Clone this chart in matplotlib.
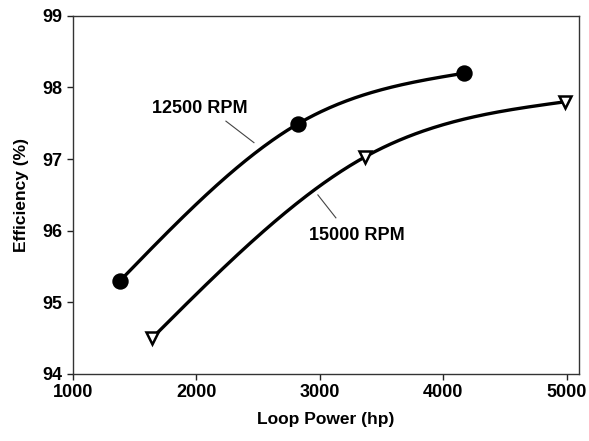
import matplotlib
matplotlib.use("Agg")
import matplotlib.pyplot as plt
import numpy as np

plt.rcParams["font.family"] = ["Liberation Sans", "DejaVu Sans"]
plt.rcParams["font.weight"] = "bold"

# ----- data --------------------------------------------------------------
power_12500 = [1380, 2820, 4170]      # hp
eff_12500 = [95.30, 97.49, 98.20]     # %
power_15000 = [1640, 3365, 4985]
eff_15000 = [94.50, 97.03, 97.80]

x_ticks = [1000, 2000, 3000, 4000, 5000]
y_ticks = [94, 95, 96, 97, 98, 99]


def smooth(xs, ys, n=100):
    """Natural cubic spline through the points (the plotted line only)."""
    x = np.asarray(xs, float)
    y = np.asarray(ys, float)
    k = len(x)
    h = np.diff(x)
    d = np.diff(y) / h
    A = np.zeros((k, k))
    b = np.zeros(k)
    A[0, 0] = A[-1, -1] = 1.0
    for i in range(1, k - 1):
        A[i, i - 1] = h[i - 1]
        A[i, i] = 2 * (h[i - 1] + h[i])
        A[i, i + 1] = h[i]
        b[i] = 6 * (d[i] - d[i - 1])
    M = np.linalg.solve(A, b)
    out_x, out_y = [], []
    for i in range(k - 1):
        t = np.linspace(x[i], x[i + 1], n)
        a = x[i + 1] - t
        c = t - x[i]
        s = (M[i] * a ** 3 + M[i + 1] * c ** 3) / (6 * h[i]) \
            + (y[i] / h[i] - M[i] * h[i] / 6) * a \
            + (y[i + 1] / h[i] - M[i + 1] * h[i] / 6) * c
        out_x.append(t)
        out_y.append(s)
    return np.concatenate(out_x), np.concatenate(out_y)


fig = plt.figure(figsize=(5.89, 4.41), dpi=100)
ax = fig.add_axes([0.124, 0.152, 0.859, 0.812])

for xs, ys, mk, fc in [(power_12500, eff_12500, "o", "black"),
                       (power_15000, eff_15000, "v", "white")]:
    xx, yy = smooth(xs, ys)
    ax.plot(xx, yy, color="black", lw=2.4, solid_capstyle="round")
    ax.plot(xs, ys, ls="none", marker=mk, ms=10 if mk == "o" else 9,
            mfc=fc, mec="black", mew=1.8, zorder=3)

# labels with thin leader lines
ax.text(2030, 97.70, "12500 RPM", ha="center", va="center",
        fontsize=13, fontweight="bold")
ax.plot([2239, 2466], [97.53, 97.23], color="#444444", lw=0.8)
ax.text(3300, 95.93, "15000 RPM", ha="center", va="center",
        fontsize=13, fontweight="bold")
ax.plot([2984, 3130], [96.50, 96.18], color="#444444", lw=0.8)

ax.set_xlim(1000, 5100)
ax.set_ylim(94, 99)
ax.set_xticks(x_ticks)
ax.set_yticks(y_ticks)
ax.tick_params(axis="both", direction="out", length=4, width=1,
               labelsize=13, colors="#222222", labelcolor="black")
ax.tick_params(top=False, right=False)
for s in ax.spines.values():
    s.set_linewidth(1.0)
    s.set_color("#333333")

ax.set_xlabel("Loop Power (hp)", fontsize=12.5, fontweight="bold", labelpad=8)
ax.set_ylabel("Efficiency (%)", fontsize=12.5, fontweight="bold", labelpad=10)

fig.savefig("out.png", dpi=100)
